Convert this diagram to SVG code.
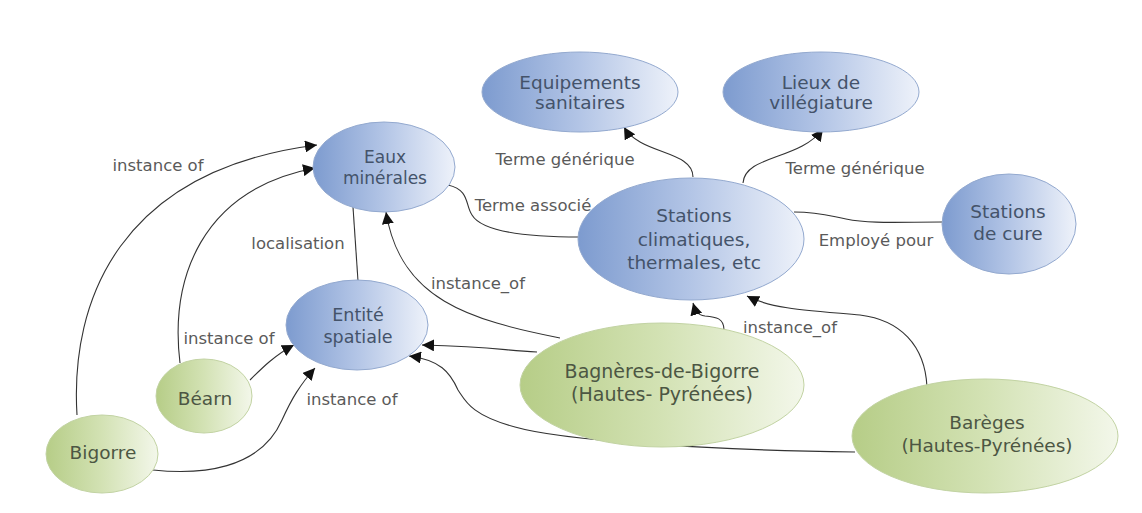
<svg xmlns="http://www.w3.org/2000/svg" width="1142" height="513" viewBox="0 0 1142 513">
<defs>
<linearGradient id="gb" x1="0" y1="0" x2="1" y2="0">
<stop offset="0" stop-color="#7d9bcf"/>
<stop offset="0.5" stop-color="#b3c5e6"/>
<stop offset="1" stop-color="#eef2fa"/>
</linearGradient>
<linearGradient id="gg" x1="0" y1="0" x2="1" y2="0">
<stop offset="0" stop-color="#b6cd87"/>
<stop offset="0.5" stop-color="#d3e2b4"/>
<stop offset="1" stop-color="#f3f7ea"/>
</linearGradient>
<marker id="ah" viewBox="0 0 10 10" refX="10" refY="5" markerWidth="12" markerHeight="12" markerUnits="userSpaceOnUse" orient="auto">
<path d="M0,0 L10,5 L0,10 z" fill="#111"/>
</marker>
<style>
.b{fill:url(#gb);stroke:#93a9cf;stroke-width:1}
.g{fill:url(#gg);stroke:#c2d3a3;stroke-width:1}
.tb{font-family:"DejaVu Sans",Verdana,sans-serif;font-size:18.5px;fill:#44536a;text-anchor:middle}
.tg{font-family:"DejaVu Sans",Verdana,sans-serif;font-size:18.5px;fill:#4c5643;text-anchor:middle}
.lb{font-family:"DejaVu Sans",Verdana,sans-serif;font-size:16.5px;fill:#5a5a5a;text-anchor:middle}
.e{fill:none;stroke:#333;stroke-width:1.1}
.a{marker-end:url(#ah)}
</style>
</defs>
<rect width="1142" height="513" fill="#fff"/>
<g id="connectors">
<path class="e a" d="M693,177 C693,150 640,155 624,127"/>
<path class="e a" d="M743,183 C745,155 800,160 823,129"/>
<path class="e" d="M448,185 C470,190 465,205 472,215 C482,232 530,237 580,237"/>
<path class="e" d="M794,212 C820,212 830,216 846,219 C870,224 900,222 942,222"/>
<path class="e" d="M353,207 L358,281"/>
<path class="e a" d="M560,338 C470,320 400,300 386,212"/>
<path class="e a" d="M537,352 C500,350 495,347 422,345"/>
<path class="e a" d="M855,452 C700,450 560,440 515,427 C470,415 465,400 458,390 C450,372 440,360 409,356"/>
<path class="e a" d="M724,330 C724,318 716,317 705,316 C697,315 695,310 693,303"/>
<path class="e a" d="M927,387 C925,345 900,320 860,315 C800,310 770,308 747,296"/>
<path class="e a" d="M77,415 C70,300 120,170 317,145"/>
<path class="e a" d="M180,363 C170,280 200,190 315,168"/>
<path class="e a" d="M250,380 C262,368 275,355 294,345"/>
<path class="e a" d="M153,470 C200,475 260,470 282,420 C292,398 300,385 315,368"/>
<text class="lb" x="158" y="171">instance of</text>
<text class="lb" x="229" y="344">instance of</text>
<text class="lb" x="352" y="405">instance of</text>
<text class="lb" x="298" y="249">localisation</text>
<text class="lb" x="478" y="289">instance_of</text>
<text class="lb" x="533" y="211">Terme associé</text>
<text class="lb" x="565" y="165">Terme générique</text>
<text class="lb" x="855" y="174">Terme générique</text>
<text class="lb" x="876" y="246">Employé pour</text>
<text class="lb" x="790" y="333">instance_of</text>
</g>
<g id="equipements">
<ellipse class="b" cx="580" cy="92" rx="98" ry="40"/>
<text class="tb" x="580" y="89">Equipements</text>
<text class="tb" x="580" y="109">sanitaires</text>
</g>
<g id="lieux">
<ellipse class="b" cx="821" cy="92" rx="98" ry="40"/>
<text class="tb" x="821" y="89">Lieux de</text>
<text class="tb" x="821" y="109">villégiature</text>
</g>
<g id="eaux">
<ellipse class="b" cx="384" cy="167" rx="71" ry="45"/>
<text class="tb" x="385" y="163" style="font-size:17px">Eaux</text>
<text class="tb" x="385" y="184" style="font-size:17px">minérales</text>
</g>
<g id="stations-climatiques">
<ellipse class="b" cx="691" cy="239" rx="113" ry="61"/>
<text class="tb" x="694" y="222">Stations</text>
<text class="tb" x="694" y="246">climatiques,</text>
<text class="tb" x="694" y="269">thermales, etc</text>
</g>
<g id="stations-cure">
<ellipse class="b" cx="1009" cy="224" rx="67" ry="50"/>
<text class="tb" x="1008" y="218">Stations</text>
<text class="tb" x="1008" y="240">de cure</text>
</g>
<g id="entite">
<ellipse class="b" cx="357" cy="325" rx="71" ry="45"/>
<text class="tb" x="358" y="321" style="font-size:17.5px">Entité</text>
<text class="tb" x="358" y="343" style="font-size:17.5px">spatiale</text>
</g>
<g id="bagneres">
<ellipse class="g" cx="662" cy="385" rx="142" ry="62"/>
<text class="tg" x="662" y="378" style="font-size:19px">Bagnères-de-Bigorre</text>
<text class="tg" x="662" y="401" style="font-size:19px">(Hautes- Pyrénées)</text>
</g>
<g id="bareges">
<ellipse class="g" cx="985" cy="436" rx="133" ry="57"/>
<text class="tg" x="987" y="429">Barèges</text>
<text class="tg" x="987" y="452">(Hautes-Pyrénées)</text>
</g>
<g id="bearn">
<ellipse class="g" cx="204" cy="396" rx="48" ry="37"/>
<text class="tg" x="205" y="405">Béarn</text>
</g>
<g id="bigorre">
<ellipse class="g" cx="102" cy="454" rx="56" ry="39"/>
<text class="tg" x="103" y="459">Bigorre</text>
</g>
</svg>
